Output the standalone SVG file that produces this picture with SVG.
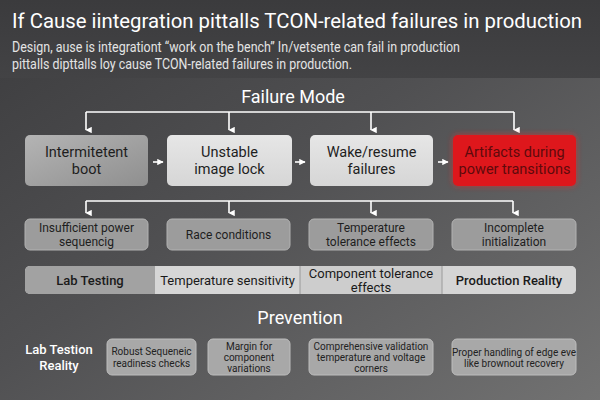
<svg xmlns="http://www.w3.org/2000/svg" width="600" height="400" viewBox="0 0 600 400">
<defs>
<linearGradient id="bg" x1="0" y1="0" x2="1" y2="1">
<stop offset="0" stop-color="#3c3c3e"/>
<stop offset="0.45" stop-color="#505052"/>
<stop offset="1" stop-color="#727272"/>
</linearGradient>
<linearGradient id="hdr" x1="0" y1="0" x2="0" y2="1">
<stop offset="0" stop-color="#3b3b3d"/>
<stop offset="1" stop-color="#434345"/>
</linearGradient>
<linearGradient id="g1" x1="0" y1="0" x2="1" y2="1">
<stop offset="0" stop-color="#b4b4b4"/>
<stop offset="1" stop-color="#8f8f8f"/>
</linearGradient>
<linearGradient id="g2" x1="0" y1="0" x2="0" y2="1">
<stop offset="0" stop-color="#e6e6e6"/>
<stop offset="1" stop-color="#d6d6d6"/>
</linearGradient>
<filter id="glow" x="-20%" y="-30%" width="140%" height="160%">
<feGaussianBlur stdDeviation="3"/>
</filter>
<marker id="ad" viewBox="0 0 10 10" refX="5" refY="9" markerWidth="4" markerHeight="4" orient="auto-start-reverse" markerUnits="strokeWidth">
<path d="M0,0 L10,0 L5,10 Z" fill="#ffffff"/>
</marker>
<marker id="ar" viewBox="0 0 10 10" refX="9" refY="5" markerWidth="4" markerHeight="4" orient="auto" markerUnits="strokeWidth">
<path d="M0,0 L10,5 L0,10 Z" fill="#ffffff"/>
</marker>
<style>
text{font-family:Roboto,"Liberation Sans",Arial,sans-serif}
.title{font-size:20px;fill:#ffffff}
.sub{font-size:14px;fill:#e4e4e4}
.sec{font-size:18px;fill:#ffffff;text-anchor:middle}
.t1{font-size:14.5px;fill:#1e1e1e;text-anchor:middle}
.t2{font-size:12px;fill:#1e1e1e;text-anchor:middle}
.t3{font-size:13px;fill:#1a1a1a;text-anchor:middle}
.t4{font-size:10px;fill:#222222;text-anchor:middle}
.lr{font-size:13px;fill:#ffffff;text-anchor:middle;font-weight:500}
.b2{fill:#9c9c9c;stroke:#b2b2b2;stroke-width:1}
.b4{fill:#a8a8a8;stroke:#bdbdbd;stroke-width:1}
.ln{stroke:#ffffff;stroke-width:1.6;fill:none}
</style>
</defs>
<rect width="600" height="400" fill="url(#bg)"/>
<rect width="600" height="78" fill="url(#hdr)"/>

<text class="title" x="12" y="28" textLength="570" lengthAdjust="spacingAndGlyphs">If Cause iintegration pittalls TCON-related failures in production</text>
<text class="sub" x="12" y="52" textLength="448" lengthAdjust="spacingAndGlyphs">Design, ause is integrationt “work on the bench” In/vetsente can fail in production</text>
<text class="sub" x="12" y="69" textLength="340" lengthAdjust="spacingAndGlyphs">pittalls dipttalls loy cause TCON-related failures in production.</text>

<text class="sec" x="293" y="103">Failure Mode</text>

<g id="connectors">
<path class="ln" d="M86,112 H514"/>
<path class="ln" d="M86,112 V130" marker-end="url(#ad)"/>
<path class="ln" d="M229,112 V130" marker-end="url(#ad)"/>
<path class="ln" d="M371,112 V130" marker-end="url(#ad)"/>
<path class="ln" d="M514,112 V130" marker-end="url(#ad)"/>
<path class="ln" d="M153,162 H163" marker-end="url(#ar)"/>
<path class="ln" d="M295,162 H305" marker-end="url(#ar)"/>
<path class="ln" d="M438,162 H448" marker-end="url(#ar)"/>
<path class="ln" d="M86,201 H513"/>
<path class="ln" d="M86,201 V213" marker-end="url(#ad)"/>
<path class="ln" d="M229,201 V213" marker-end="url(#ad)"/>
<path class="ln" d="M371,201 V213" marker-end="url(#ad)"/>
<path class="ln" d="M513,201 V213" marker-end="url(#ad)"/>
</g>

<g id="n-intermittent">
<rect x="25" y="135" width="123" height="51" rx="5" fill="url(#g1)"/>
<text class="t1" x="86.5" y="157">Intermitetent</text>
<text class="t1" x="86.5" y="174">boot</text>
</g>
<g id="n-unstable">
<rect x="167" y="135" width="125" height="51" rx="5" fill="url(#g2)"/>
<text class="t1" x="229.5" y="157">Unstable</text>
<text class="t1" x="229.5" y="174">image lock</text>
</g>
<g id="n-wake">
<rect x="310" y="135" width="123" height="51" rx="5" fill="url(#g2)"/>
<text class="t1" x="371.5" y="157">Wake/resume</text>
<text class="t1" x="371.5" y="174">failures</text>
</g>
<g id="n-artifacts">
<rect x="453" y="135" width="123" height="51" rx="5" fill="#ff2020" opacity="0.6" filter="url(#glow)"/>
<rect x="453" y="135" width="123" height="51" rx="5" fill="#de171c"/>
<text class="t1" x="514.5" y="157" style="fill:#5e0a0c">Artifacts during</text>
<text class="t1" x="514.5" y="174" style="fill:#5e0a0c">power transitions</text>
</g>

<g id="n-insufficient">
<rect class="b2" x="25" y="219" width="123" height="31" rx="5"/>
<text class="t2" x="86.5" y="231.5">Insufficient power</text>
<text class="t2" x="86.5" y="245.5">sequencig</text>
</g>
<g id="n-race">
<rect class="b2" x="167" y="219" width="123" height="31" rx="5"/>
<text class="t2" x="228.5" y="239">Race conditions</text>
</g>
<g id="n-temperature">
<rect class="b2" x="309" y="219" width="124" height="31" rx="5"/>
<text class="t2" x="371" y="231.5">Temperature</text>
<text class="t2" x="371" y="245.5">tolerance effects</text>
</g>
<g id="n-incomplete">
<rect class="b2" x="452" y="219" width="124" height="31" rx="5"/>
<text class="t2" x="514" y="231.5">Incomplete</text>
<text class="t2" x="514" y="245.5">initialization</text>
</g>

<g id="n-compare-bar">
<rect x="25" y="266" width="551" height="28" rx="5" fill="#d2d2d2"/>
<path d="M30,266 H155 V294 H30 A5,5 0 0 1 25,289 V271 A5,5 0 0 1 30,266 Z" fill="#a2a2a2"/>
<rect x="155" y="266" width="145" height="28" fill="#d6d6d6"/>
<rect x="300" y="266" width="142" height="28" fill="#cdcdcd"/>
<path d="M442,266 H571 A5,5 0 0 1 576,271 V289 A5,5 0 0 1 571,294 H442 Z" fill="#d5d5d5"/>
<path d="M300,266 V294 M442,266 V294" stroke="#9a9a9a" stroke-width="1"/>
<text class="t3" x="90" y="285" style="font-weight:500">Lab Testing</text>
<text class="t3" x="227.5" y="285">Temperature sensitivity</text>
<text class="t3" x="371" y="278">Component tolerance</text>
<text class="t3" x="371" y="292">effects</text>
<text class="t3" x="509" y="285" style="font-weight:500">Production Reality</text>
</g>

<text class="sec" x="300" y="324">Prevention</text>

<g id="n-lab-reality">
<text class="lr" x="59" y="354">Lab Testion</text>
<text class="lr" x="59" y="369.5">Reality</text>
</g>
<g id="n-robust">
<rect class="b4" x="107" y="339" width="89" height="36" rx="5"/>
<text class="t4" x="151.5" y="355">Robust Sequeneic</text>
<text class="t4" x="151.5" y="367">readiness checks</text>
</g>
<g id="n-margin">
<rect class="b4" x="208" y="339" width="82" height="36" rx="5"/>
<text class="t4" x="249" y="350">Margin for</text>
<text class="t4" x="249" y="361">component</text>
<text class="t4" x="249" y="372">variations</text>
</g>
<g id="n-comprehensive">
<rect class="b4" x="309" y="339" width="124" height="36" rx="5"/>
<text class="t4" x="371" y="350">Comprehensive validation</text>
<text class="t4" x="371" y="361">temperature and voltage</text>
<text class="t4" x="371" y="372">corners</text>
</g>
<g id="n-proper">
<rect class="b4" x="452" y="339" width="124" height="36" rx="5"/>
<text class="t4" x="514" y="356">Proper handling of edge eve</text>
<text class="t4" x="514" y="367">like brownout recovery</text>
</g>
</svg>
